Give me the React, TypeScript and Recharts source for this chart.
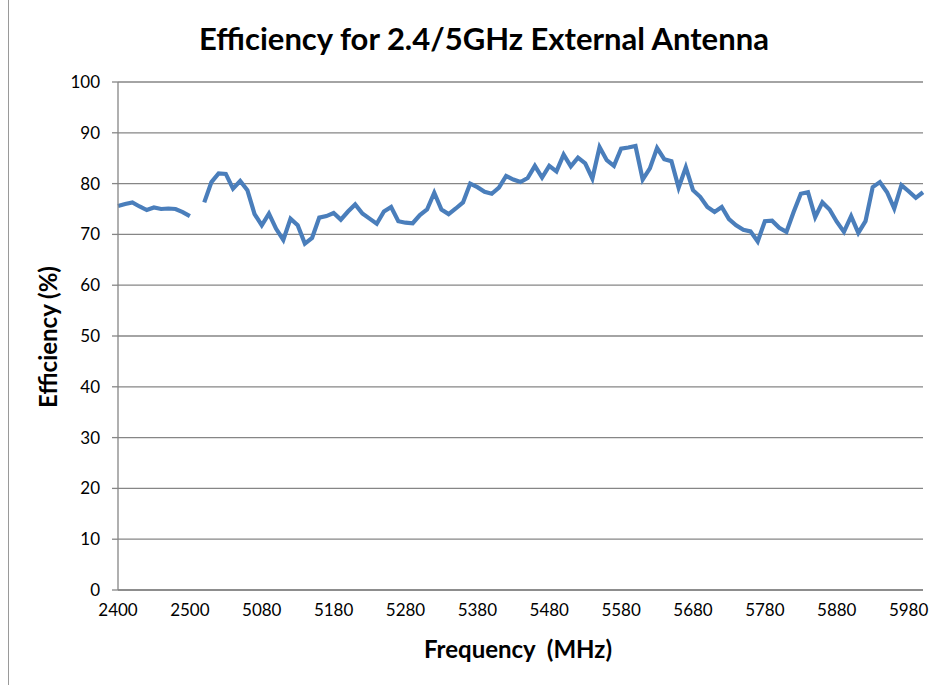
import React from 'react';
import { LineChart, Line, XAxis, YAxis, CartesianGrid } from 'recharts';

// 2.4 GHz band, 2400..2500 MHz step 10
const band24Freqs = [2400, 2410, 2420, 2430, 2440, 2450, 2460, 2470, 2480, 2490, 2500];
const band24Eff = [75.6, 76.0, 76.3, 75.5, 74.8, 75.3, 75.0, 75.1, 75.0, 74.4, 73.6];

// 5 GHz band, 5000..6000 MHz step 10
const band5Eff = [
  76.3, 80.3, 82.0, 81.9, 79.0, 80.5, 78.7, 74.0, 71.8, 74.1,
  71.1, 68.9, 73.1, 71.8, 68.2, 69.3, 73.3, 73.6, 74.2, 72.9,
  74.5, 75.9, 74.1, 73.1, 72.1, 74.5, 75.4, 72.6, 72.3, 72.2,
  73.8, 74.9, 78.2, 74.9, 74.0, 75.1, 76.3, 80.0, 79.3, 78.4,
  78.0, 79.2, 81.5, 80.8, 80.3, 81.1, 83.5, 81.2, 83.5, 82.4,
  85.7, 83.4, 85.1, 84.0, 81.0, 87.2, 84.6, 83.5, 86.9, 87.1,
  87.4, 80.8, 83.0, 87.0, 84.8, 84.4, 79.2, 83.2, 78.7, 77.4,
  75.4, 74.4, 75.4, 73.0, 71.8, 70.9, 70.6, 68.6, 72.6, 72.7,
  71.3, 70.5, 74.4, 78.0, 78.3, 73.4, 76.3, 74.9, 72.5, 70.5,
  73.6, 70.3, 72.6, 79.3, 80.3, 78.3, 75.1, 79.7, 78.5, 77.2,
  78.3,
];
const band5Freqs = band5Eff.map((_, i) => 5000 + i * 10);

const yTicks = [0, 10, 20, 30, 40, 50, 60, 70, 80, 90, 100];

const data = [
  ...band24Freqs.map((f, i) => ({ freq: String(f), eff: band24Eff[i] })),
  { freq: '', eff: null },
  ...band5Freqs.map((f, i) => ({ freq: String(f), eff: band5Eff[i] })),
];

const FONT = 'Lato, "Open Sans", sans-serif';
const GRID = '#868686';

export default function App() {
  return (
    <div style={{ position: 'absolute', left: 0, top: 0, width: 950, height: 685, background: '#fff', fontFamily: FONT }}>
      <div style={{ position: 'absolute', left: 8, top: 0, width: 1, height: 685, background: '#9a9a9a' }} />
      <div style={{ position: 'absolute', left: 0, width: 968, top: 19, textAlign: 'center', fontSize: 31, fontWeight: 700, color: '#000' }}>
        Efficiency for 2.4/5GHz External Antenna
      </div>
      <div
        style={{
          position: 'absolute', left: 47, top: 337, transform: 'translate(-50%, -50%) rotate(-90deg)',
          whiteSpace: 'nowrap', fontSize: 24, fontWeight: 700, color: '#000',
        }}
      >
        Efficiency (%)
      </div>
      <div style={{ position: 'absolute', left: 518, top: 648, transform: 'translate(-50%, -50%)', whiteSpace: 'pre', fontSize: 24, fontWeight: 700, color: '#000' }}>
        {'Frequency  (MHz)'}
      </div>
      <LineChart
        width={950}
        height={685}
        data={data}
        margin={{ top: 82, right: 27, bottom: 65, left: 58 }}
        style={{ position: 'absolute', left: 0, top: 0 }}
      >
        <CartesianGrid vertical={false} stroke={GRID} strokeWidth={1.3} />
        <XAxis
          dataKey="freq"
          interval={9}
          tickLine={false}
          tickSize={0}
          tickMargin={14}
          height={30}
          axisLine={{ stroke: GRID, strokeWidth: 1.3 }}
          tick={{ fill: '#000', fontSize: 17, fontFamily: FONT }}
        />
        <YAxis
          domain={[0, 100]}
          ticks={yTicks}
          width={60}
          tickSize={6}
          tickMargin={12}
          axisLine={{ stroke: GRID, strokeWidth: 1.3 }}
          tickLine={{ stroke: GRID, strokeWidth: 1.3 }}
          tick={{ fill: '#000', fontSize: 17, fontFamily: FONT }}
        />
        <Line
          type="linear"
          dataKey="eff"
          stroke="#4A7EBB"
          strokeWidth={4.2}
          dot={false}
          activeDot={false}
          isAnimationActive={false}
        />
      </LineChart>
    </div>
  );
}
